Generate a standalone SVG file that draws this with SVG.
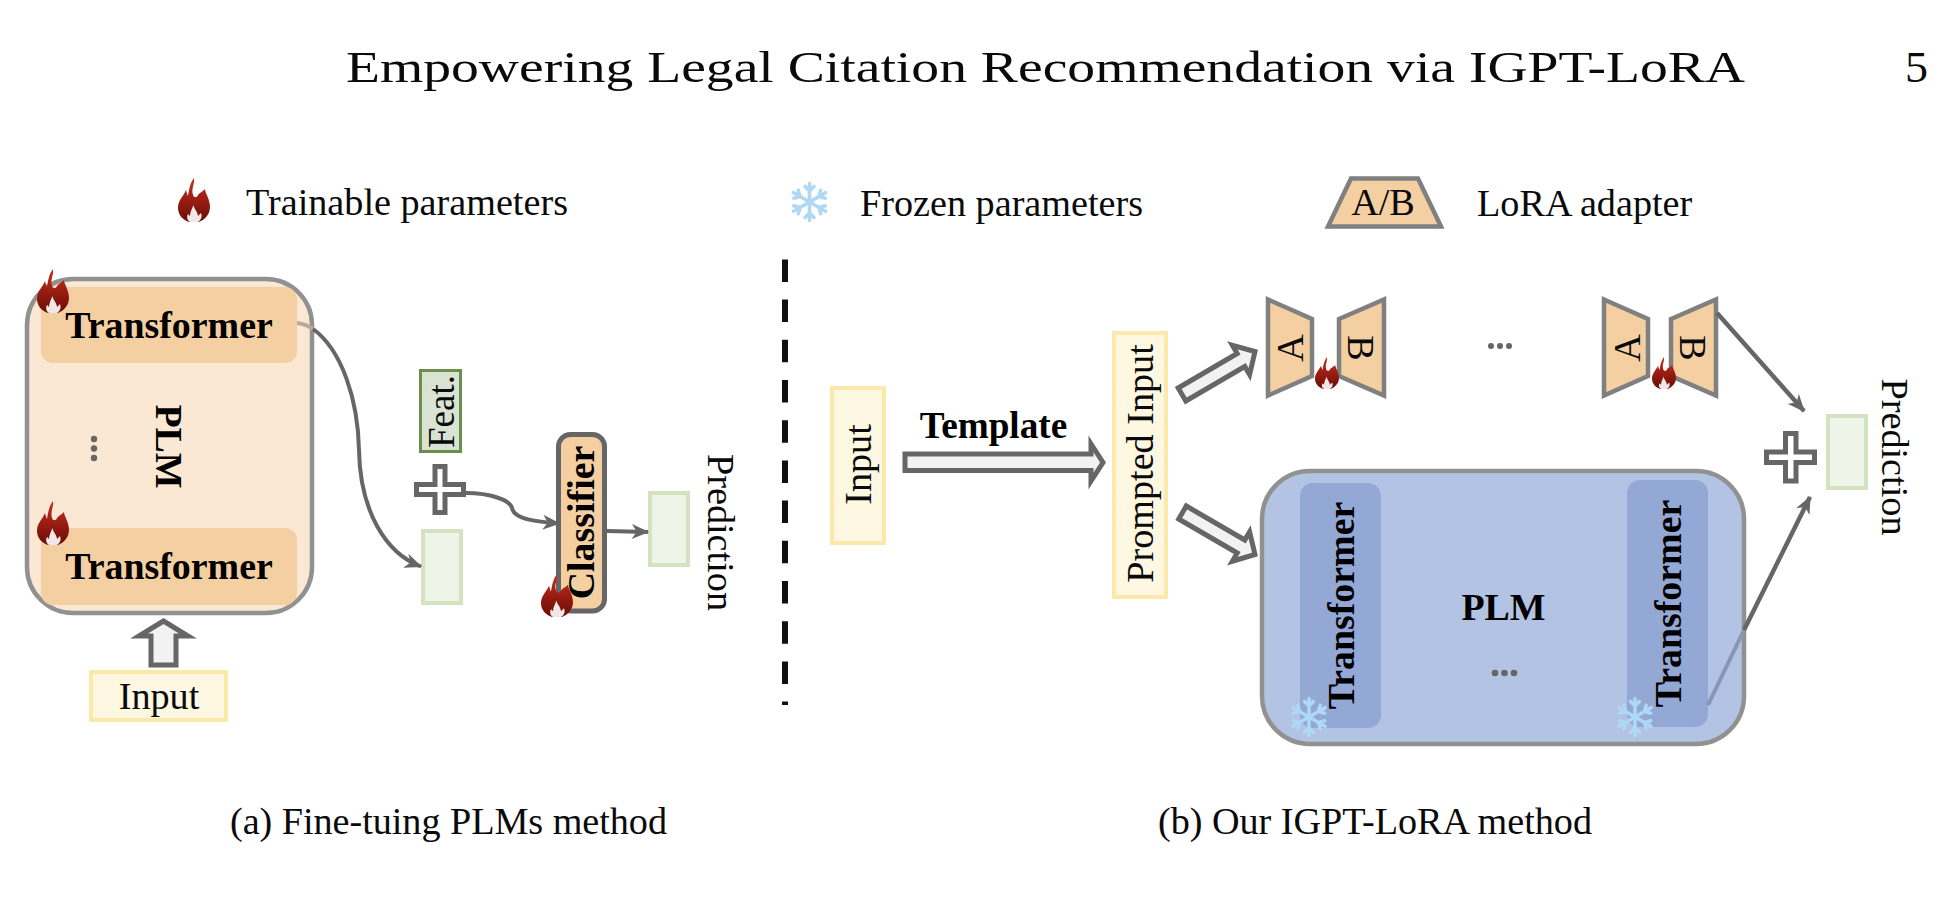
<svg xmlns="http://www.w3.org/2000/svg" xmlns:xlink="http://www.w3.org/1999/xlink" width="1950" height="916" viewBox="0 0 1950 916">
<style>
text{font-family:"Liberation Serif","Times New Roman",serif;font-size:38.2px;fill:#0a0a0a}
.b{font-weight:bold;fill:#000;font-size:37.9px}
.m{text-anchor:middle}
.plmA{fill:#fae8d4;stroke:#919191;stroke-width:4.5}
.plmB{fill:#b3c3e3;stroke:#919191;stroke-width:4.5}
.tA{fill:#f4cfa2}
.tB{fill:#94a8d6}
.in{fill:#fef7e2;stroke:#fce8a9;stroke-width:4}
.pr{fill:#eef4e8;stroke:#d3e3c0;stroke-width:4}
.fat{fill:#f2f2f2;stroke:#666;stroke-width:5;stroke-linejoin:miter;stroke-miterlimit:8}
.plus{fill:#fff;stroke:#666;stroke-width:5}
.ad{fill:#f4cfa2;stroke:#808080;stroke-width:4.5}
.ln{fill:none;stroke:#666;stroke-width:4}
.dot{fill:#666}
</style>
<defs>
<linearGradient id="fg" x1="0" y1="0" x2="0" y2="1"><stop offset="0" stop-color="#cb2d1e"/><stop offset="1" stop-color="#690d07"/></linearGradient>
<symbol id="flame" viewBox="0 0 32 44" preserveAspectRatio="none">
<path fill="url(#fg)" d="M16 0C17 6 13 10 15 17C16 20 19 20 20 17C21 15 24 14 27 11C27 15 32 21 32 29C32 37 26 42 21 44L11 44C5 42 0 37 0 30C0 22 5 19 8 12C9 16 10 18 10 18C11 12 12 5 16 0Z"/>
<path fill="#fff" fill-opacity=".9" d="M15.500 27C16 31 19.500 33 20 38C21 37 22 36 23 35C24.500 39 23 42 20 44L12 44C9 42 8.500 39 10 36C11 37 11 37 12 38C12 34 14 31 15.500 27Z"/>
</symbol>
<g id="arm"><path d="M0 0V-18.500M-4.500 -15.500L0 -11L4.500 -15.500"/></g>
<symbol id="snow" viewBox="-21 -21 42 42">
<g fill="none" stroke="#aed8f3" stroke-width="3.600" stroke-linecap="round" stroke-linejoin="round">
<use xlink:href="#arm" href="#arm"/><use xlink:href="#arm" href="#arm" transform="rotate(60)"/><use xlink:href="#arm" href="#arm" transform="rotate(120)"/><use xlink:href="#arm" href="#arm" transform="rotate(180)"/><use xlink:href="#arm" href="#arm" transform="rotate(240)"/><use xlink:href="#arm" href="#arm" transform="rotate(300)"/>
</g>
</symbol>
<marker id="ah" viewBox="0 0 14 12" refX="13" refY="6" markerWidth="18" markerHeight="15" markerUnits="userSpaceOnUse" orient="auto"><path d="M0 0L14 6L0 12L4 6Z" fill="#666"/></marker>
</defs>

<g id="header">
<text x="346" y="82" style="font-size:44px" textLength="1399" lengthAdjust="spacingAndGlyphs">Empowering Legal Citation Recommendation via IGPT-LoRA</text>
<text x="1905" y="82" style="font-size:44px" textLength="23" lengthAdjust="spacingAndGlyphs">5</text>
</g>

<g id="legend">
<use href="#flame" x="178" y="178" width="32" height="44"/>
<text x="246" y="215">Trainable parameters</text>
<use href="#snow" x="788.500" y="181" width="42" height="42"/>
<text x="860" y="216">Frozen parameters</text>
<path class="ad" d="M1351 178.500L1418 178.500L1441 226.500L1328 226.500Z"/>
<text x="1383" y="215" class="m">A/B</text>
<text x="1477" y="216">LoRA adapter</text>
</g>

<g id="plm-a">
<rect class="plmA" x="27" y="279" width="285" height="334" rx="46"/>
<rect class="tA" x="41" y="287" width="256" height="76" rx="12"/>
<text x="169" y="338" class="b m">Transformer</text>
<rect class="tA" x="41" y="528" width="256" height="77" rx="12"/>
<text x="169" y="579" class="b m">Transformer</text>
<text class="b m" transform="translate(156 446.500) rotate(90)">PLM</text>
<circle class="dot" cx="94" cy="439" r="3.200"/><circle class="dot" cx="94" cy="448.500" r="3.200"/><circle class="dot" cx="94" cy="458" r="3.200"/>
<use href="#flame" x="37" y="269" width="32" height="44"/>
<use href="#flame" x="37" y="501" width="32" height="44"/>
</g>

<g id="input-a">
<rect class="in" x="91" y="672" width="135" height="48"/>
<text x="159" y="709" class="m">Input</text>
</g>

<g id="feat-box"><rect x="420.500" y="370.500" width="40" height="81" fill="#d9e3d2" stroke="#6b8e4e" stroke-width="3"/>
<text class="m" transform="translate(454 411.500) rotate(-90)" style="font-size:37px">Feat.</text></g>
<g id="plus-a"><path class="plus" d="M435 466.500H445V484.500H463.500V494.500H445V512.500H435V494.500H416.500V484.500H435Z"/></g>
<g id="feature-a"><rect class="pr" x="423" y="531" width="38" height="72"/></g>
<g id="classifier"><rect x="558.500" y="434.500" width="46" height="176.500" rx="12" fill="#f4cfa2" stroke="#666" stroke-width="5"/>
<text class="b m" transform="translate(594 522.500) rotate(-90)">Classifier</text>
<use href="#flame" x="541" y="574" width="32" height="43"/></g>
<g id="prediction-a"><rect class="pr" x="650" y="493" width="38" height="72"/>
<text class="m" transform="translate(708 532.500) rotate(90)">Prediction</text></g>

<g id="divider"><path d="M785 259.400V705" fill="none" stroke="#111" stroke-width="6" stroke-dasharray="22.500 17.700"/></g>

<g id="input-b"><rect class="in" x="832" y="388" width="52" height="155"/>
<text class="m" transform="translate(871 464.500) rotate(-90)">Input</text></g>
<g id="template-label"><text x="993.500" y="438" class="b m" style="font-size:37.200px">Template</text></g>
<g id="prompted"><rect class="in" x="1114" y="333" width="52" height="264"/>
<text class="m" transform="translate(1153 463.500) rotate(-90)">Prompted Input</text></g>

<g id="adapter-1">
<path class="ad" d="M1268 299.500L1312 319V376L1268 395.500Z"/>
<path class="ad" d="M1339 319L1384 299.500V395.500L1339 376Z"/>
<text class="m" transform="translate(1303 348) rotate(-90)">A</text>
<text class="m" transform="translate(1348 348) rotate(90)">B</text>
<use href="#flame" x="1315" y="357" width="24" height="32"/>
</g>
<g id="ellipsis"><circle class="dot" cx="1491" cy="346" r="3"/><circle class="dot" cx="1500" cy="346" r="3"/><circle class="dot" cx="1509" cy="346" r="3"/></g>
<g id="adapter-2">
<path class="ad" d="M1604 299.500L1648 319V376L1604 395.500Z"/>
<path class="ad" d="M1671 319L1716 299.500V395.500L1671 376Z"/>
<text class="m" transform="translate(1640 348) rotate(-90)">A</text>
<text class="m" transform="translate(1680 348) rotate(90)">B</text>
<use href="#flame" x="1652" y="357" width="24" height="32"/>
</g>

<g id="plm-b">
<rect class="plmB" x="1262" y="471" width="482" height="273" rx="48"/>
<rect class="tB" x="1300" y="483" width="81" height="245" rx="13"/>
<text class="b m" transform="translate(1354 605.500) rotate(-90)">Transformer</text>
<rect class="tB" x="1627" y="480" width="81" height="247" rx="13"/>
<text class="b m" transform="translate(1681 603.500) rotate(-90)">Transformer</text>
<text x="1503.500" y="620" class="b m">PLM</text>
<circle class="dot" cx="1495" cy="673" r="3.300"/><circle class="dot" cx="1504.500" cy="673" r="3.300"/><circle class="dot" cx="1514" cy="673" r="3.300"/>
<use href="#snow" x="1288" y="696" width="42" height="42"/>
<use href="#snow" x="1614" y="696" width="42" height="42"/>
</g>

<g id="plus-b"><path class="plus" d="M1785.500 433.500H1796V452H1814.500V462.500H1796V481H1785.500V462.500H1766.500V452H1785.500Z"/></g>
<g id="prediction-b"><rect class="pr" x="1828" y="416" width="38" height="72"/>
<text class="m" transform="translate(1882 457) rotate(90)">Prediction</text></g>

<g id="connectors">
<path d="M163.500 621L139 636H151V665H176V636H188Z" class="fat"/>
<path d="M905 454H1091V444L1103 462.500L1091 481V470.500H905Z" class="fat"/>
<path d="M1178.200 388L1237.200 353.500L1232.400 345.300L1255 351.600L1249.600 374.700L1244.800 366.500L1185.800 401Z" class="fat"/>
<path d="M1186.300 506L1244.800 540L1249.600 531.800L1255 554.500L1232.400 561.200L1237.200 553L1178.700 519Z" class="fat"/>
<path d="M297 323C304 324 309 326 313 329" fill="none" stroke="#b8aa98" stroke-width="4"/>
<path class="ln" d="M313 329C342 350 358 400 359 450C360 510 385 553 421 566.500" marker-end="url(#ah)"/>
<path class="ln" d="M466 493C490 493 510 500 512 508C514 520 540 522 559 523.500" marker-end="url(#ah)"/>
<path class="ln" d="M607 531L648 532" marker-end="url(#ah)"/>
<path class="ln" style="stroke-width:4.500" d="M1717 313L1804 411" marker-end="url(#ah)"/>
<path d="M1708 705L1744 630" fill="none" stroke="#8796b3" stroke-width="4"/>
<path class="ln" style="stroke-width:4.500" d="M1744 630L1810 497" marker-end="url(#ah)"/>
</g>

<g id="captions">
<text x="230" y="834" textLength="437">(a) Fine-tuing PLMs method</text>
<text x="1158" y="834" textLength="434">(b) Our IGPT-LoRA method</text>
</g>
</svg>
